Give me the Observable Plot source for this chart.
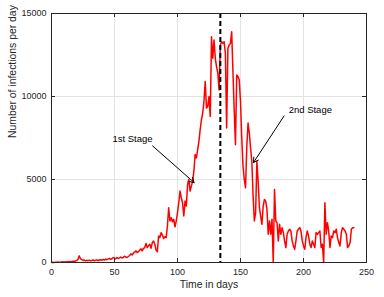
<!DOCTYPE html>
<html><head><meta charset="utf-8">
<script src="https://cdn.jsdelivr.net/npm/d3@7"></script>
<script src="https://cdn.jsdelivr.net/npm/@observablehq/plot@0.6"></script>
<style>body{margin:0;background:#fff}</style>
</head><body><div id="chart"></div>
<script>
// daily infections, day 0 .. 240
const infections = [
  0,10,0,20,10,30,20,10,30,40, 20,40,30,50,40,60,50,70,60,90,
  130,180,400,230,180,120,150,100,130,110, 140,100,120,150,110,130,160,120,150,170,
  140,180,150,200,170,220,250,190,230,300, 260,220,300,240,280,330,270,310,380,330,
  300,360,420,520,450,560,620,700,600,650, 740,820,700,850,900,1150,900,1000,1100,850,
  1200,1300,1100,750,650,1600,1500,1800,1650,1450, 1550,1500,2200,3300,2500,2700,2450,2600,2150,2500,
  3000,3600,4300,3900,3600,2800,3700,3400,4700,5000, 4300,4600,4900,5500,6500,6300,6800,7300,8000,8600,
  9000,9700,10900,9300,9400,10000,8800,13600,12300,13400, 12300,11800,11400,10400,13100,13300,13200,13300,12600,8100,
  12900,13100,13200,13900,11500,9200,7100,11300,11200,11000, 9700,7500,5800,5000,4500,7000,8400,7800,6900,6100,
  4000,2500,3000,6100,4900,3300,2800,2300,3400,3800, 3700,3200,1700,2500,1700,2600,0,4400,2500,2400,
  1300,2300,1700,2100,1800,1300,900,1700,1900,2000, 1900,1300,1000,800,1300,1900,2000,2100,1900,1300,
  1000,800,1500,1900,1600,1100,900,1300,1100,900, 1800,1700,1800,1900,900,1100,0,3600,1700,2400,
  1900,900,1600,1500,1900,1800,2000,1500,1200,1000, 1800,2100,2000,1900,1700,900,1000,1200,2000,2100,2100
];
const days = d3.range(infections.length);
const xTicks = [0, 50, 100, 150, 200, 250];
const yTicks = [0, 5000, 10000, 15000];
const stageDay = [134];
const stageLabels = ["1st Stage", "2nd Stage"];
const stageLabelDay = [64.3, 205.4];
const stageLabelValue = [7420, 9180];
const arrowFromDay = [80.2, 184.6];
const arrowFromValue = [7025, 8830];
const arrowToDay = [113.2, 160.3];
const arrowToValue = [4816, 6020];

const series = days.map((d, i) => ({day: d, value: infections[i]}));
const labels = stageLabels.map((t, i) => ({text: t, x: stageLabelDay[i], y: stageLabelValue[i]}));
const arrows = arrowFromDay.map((d, i) => ({x1: d, y1: arrowFromValue[i], x2: arrowToDay[i], y2: arrowToValue[i]}));

const chart = Plot.plot({
  width: 384, height: 297,
  marginLeft: 51, marginRight: 18, marginTop: 13, marginBottom: 35,
  style: {fontFamily: "'Liberation Sans', Arial, sans-serif", fontSize: "9px", color: "#262626", background: "#fff"},
  x: {domain: [0, 250]},
  y: {domain: [0, 15000]},
  marks: [
    Plot.gridX(xTicks, {stroke: "#e3e3e3", strokeOpacity: 1}),
    Plot.gridY(yTicks, {stroke: "#e3e3e3", strokeOpacity: 1}),
    Plot.lineY(series, {x: "day", y: "value", stroke: "#ff0000", strokeWidth: 1.5}),
    Plot.ruleX(stageDay, {stroke: "black", strokeWidth: 2, strokeDasharray: "5,3"}),
    Plot.arrow(arrows, {x1: "x1", y1: "y1", x2: "x2", y2: "y2", stroke: "black", strokeWidth: 1, headLength: 8}),
    Plot.text(labels, {x: "x", y: "y", text: "text", fontSize: 9.5, fill: "black"}),
    Plot.frame({stroke: "#262626"}),
    Plot.tickX(xTicks, {x: d => d, insetTop: 245, stroke: "#262626"}),
    Plot.tickX(xTicks, {x: d => d, insetBottom: 245, stroke: "#262626"}),
    Plot.tickY(yTicks, {y: d => d, insetRight: 311, stroke: "#262626"}),
    Plot.tickY(yTicks, {y: d => d, insetLeft: 311, stroke: "#262626"}),
    Plot.axisX({ticks: xTicks, tickSize: 0, tickPadding: 6, tickFormat: "d", label: null, fontSize: 9}),
    Plot.axisY({ticks: yTicks, tickSize: 0, tickPadding: 5, tickFormat: "d", label: null, fontSize: 9}),
    Plot.text(["Time in days"], {frameAnchor: "bottom", dy: 25, fontSize: 10.4, fill: "#262626"}),
    Plot.text(["Number of infections per day"], {frameAnchor: "left", rotate: -90, dx: -39, fontSize: 10.4, fill: "#262626"})
  ]
});
document.getElementById("chart").appendChild(chart);
</script>
</body></html>
